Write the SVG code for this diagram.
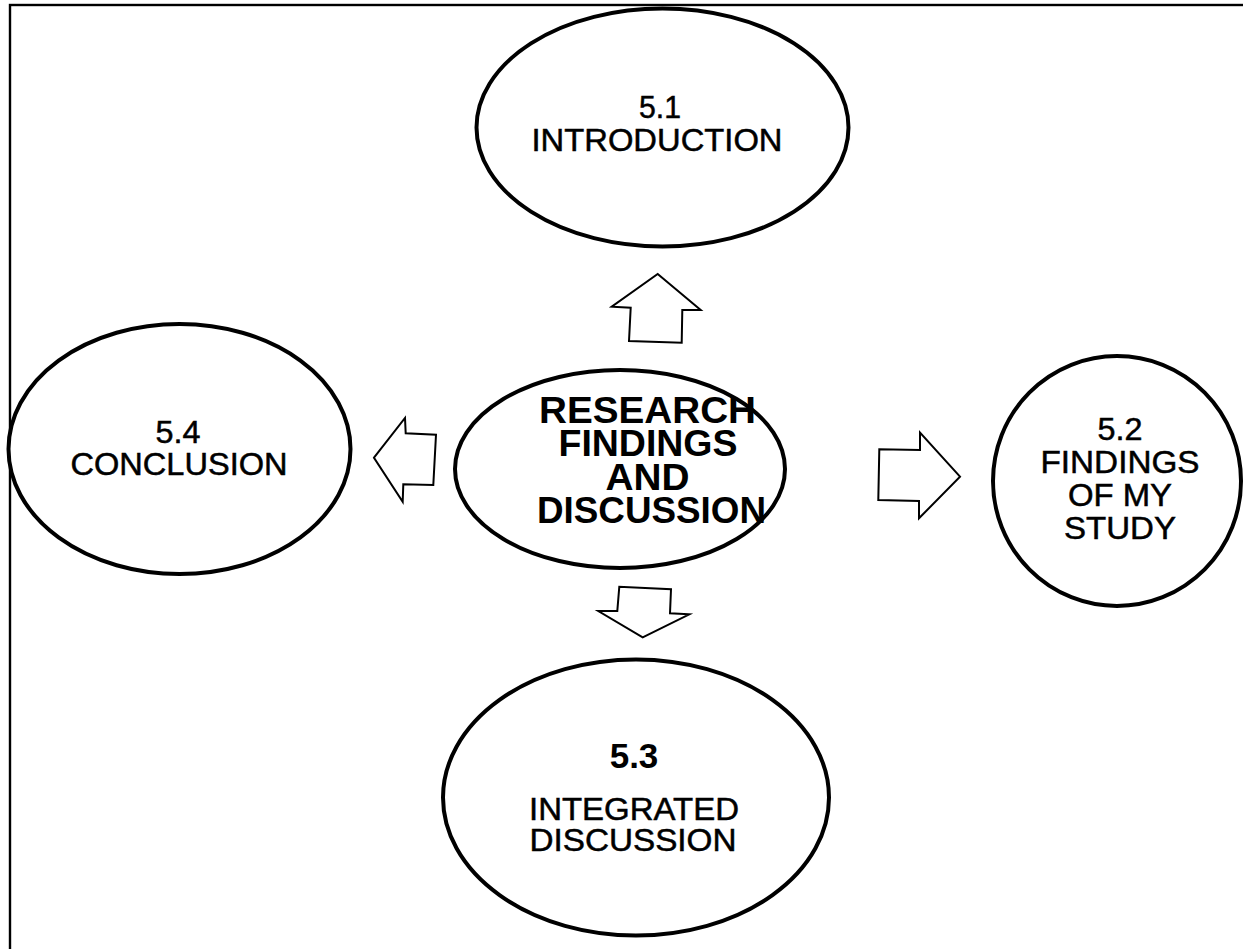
<svg xmlns="http://www.w3.org/2000/svg" width="1243" height="949" viewBox="0 0 1243 949">
<style>
.node{fill:#fff;stroke:#000;stroke-width:4}
.arrow{fill:#fff;stroke:#000;stroke-width:2;stroke-linejoin:miter}
.t{font-family:"Liberation Sans",Arial,sans-serif;font-size:31px;fill:#000;stroke:#000;stroke-width:0.5;text-anchor:middle}
.b{font-family:"Liberation Sans",Arial,sans-serif;font-weight:bold;font-size:36px;fill:#000;text-anchor:middle}
</style>
<rect x="10" y="5" width="1300" height="1000" fill="#fff" stroke="#000" stroke-width="2.4"/>
<g id="n51">
<ellipse class="node" cx="662.5" cy="127.5" rx="186" ry="119"/>
<text class="t" x="660" y="118" textLength="42" lengthAdjust="spacingAndGlyphs">5.1</text>
<text class="t" x="657" y="151" textLength="251" lengthAdjust="spacingAndGlyphs">INTRODUCTION</text>
</g>
<g id="n54">
<ellipse class="node" cx="179.5" cy="449" rx="171" ry="125"/>
<text class="t" x="178" y="443" textLength="45" lengthAdjust="spacingAndGlyphs">5.4</text>
<text class="t" x="179" y="475" textLength="217" lengthAdjust="spacingAndGlyphs">CONCLUSION</text>
</g>
<g id="center">
<ellipse class="node" cx="620" cy="469" rx="165" ry="99"/>
<text class="b" x="647.5" y="423" textLength="217" lengthAdjust="spacingAndGlyphs">RESEARCH</text>
<text class="b" x="648" y="456" textLength="179" lengthAdjust="spacingAndGlyphs">FINDINGS</text>
<text class="b" x="647.5" y="490" textLength="84" lengthAdjust="spacingAndGlyphs">AND</text>
<text class="b" x="651.5" y="523" textLength="229" lengthAdjust="spacingAndGlyphs">DISCUSSION</text>
</g>
<g id="n52">
<ellipse class="node" cx="1117" cy="481" rx="124" ry="125"/>
<text class="t" x="1120" y="440" textLength="45" lengthAdjust="spacingAndGlyphs">5.2</text>
<text class="t" x="1120" y="473" textLength="159" lengthAdjust="spacingAndGlyphs">FINDINGS</text>
<text class="t" x="1120" y="506" textLength="104" lengthAdjust="spacingAndGlyphs">OF MY</text>
<text class="t" x="1120" y="539" textLength="112" lengthAdjust="spacingAndGlyphs">STUDY</text>
</g>
<g id="n53">
<ellipse class="node" cx="636" cy="797.5" rx="193" ry="138"/>
<text class="b" x="634" y="768" style="font-size:35px">5.3</text>
<text class="t" x="634" y="820" textLength="210" lengthAdjust="spacingAndGlyphs">INTEGRATED</text>
<text class="t" x="633" y="851" textLength="207" lengthAdjust="spacingAndGlyphs">DISCUSSION</text>
</g>
<g id="connectors">
<polygon class="arrow" points="657.7,274 700.7,310 682.3,310 681.7,342.7 629,341 630.7,307.7 611.7,306.7"/>
<polygon class="arrow" points="374,457.7 405,418 405.7,433.3 436,434.7 433.3,485 403.3,484.3 402.7,501.7"/>
<polygon class="arrow" points="960,476.7 920,432.7 920,450 879.3,449.3 878.3,500 919,501 919,518.3"/>
<polygon class="arrow" points="642.7,637.3 689.3,614.3 670,613.3 671,589.3 619.3,586.7 617.3,611 598.3,611"/>
</g>
</svg>
